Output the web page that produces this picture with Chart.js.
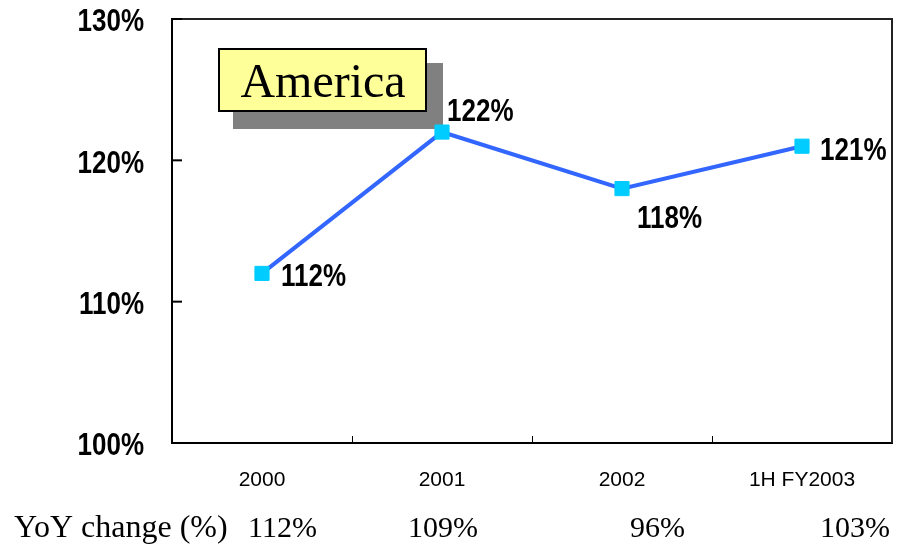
<!DOCTYPE html>
<html>
<head>
<meta charset="utf-8">
<script src="https://cdn.jsdelivr.net/npm/chart.js@4/dist/chart.umd.min.js"></script>
<style>
  html, body { margin: 0; padding: 0; background: #ffffff; }
  #wrap { width: 904px; height: 545px; position: relative; }
</style>
</head>
<body>
<div id="wrap"><canvas id="c" width="904" height="545"></canvas></div>
<script>
// ---- data ----
const categories = ['2000', '2001', '2002', '1H FY2003'];
const americaValues = [112, 122, 118, 121];
const yTickValues = [100, 110, 120, 130];
const yoyLabel = 'YoY change (%)';
const yoyValues = ['112%', '109%', '96%', '103%'];
const boxTitle = 'America';

const SANS = "'Liberation Sans', Arial, Helvetica, sans-serif";
const SERIF = "'Liberation Serif', 'Times New Roman', serif";
const STRETCH = 1.18;   // vertical stretch of the bold labels
const BOLD_SIZE = 26;

function stretchedText(ctx, text, x, yCenter, align) {
  ctx.save();
  ctx.translate(x, yCenter);
  ctx.scale(1, STRETCH);
  ctx.font = 'bold ' + BOLD_SIZE + 'px ' + SANS;
  ctx.textAlign = align;
  ctx.textBaseline = 'alphabetic';
  ctx.fillStyle = '#000';
  ctx.fillText(text, 0, 0.358 * BOLD_SIZE);
  ctx.restore();
}

const decorPlugin = {
  id: 'decor',
  beforeDatasetsDraw(chart, args, opts) {
    const ctx = chart.ctx;
    const a = chart.chartArea;
    ctx.save();
    // frame top & right
    ctx.strokeStyle = '#222';
    ctx.lineWidth = 2;
    ctx.beginPath();
    ctx.moveTo(a.left, a.top);
    ctx.lineTo(a.right, a.top);
    ctx.lineTo(a.right, a.bottom);
    ctx.stroke();
    // inward y ticks + labels
    const ys = chart.scales.y;
    ctx.strokeStyle = '#000';
    ctx.lineWidth = 2;
    ys.ticks.forEach((t) => {
      const py = ys.getPixelForValue(t.value);
      ctx.beginPath();
      ctx.moveTo(a.left, py);
      ctx.lineTo(a.left + 10, py);
      ctx.stroke();
      stretchedText(ctx, t.value + '%', a.left - 28, py + 1.3, 'right');
    });
    // inward x ticks between categories
    const xs = chart.scales.x;
    ctx.lineWidth = 1;
    for (let i = 0; i < categories.length - 1; i++) {
      const px = (xs.getPixelForTick(i) + xs.getPixelForTick(i + 1)) / 2;
      ctx.beginPath();
      ctx.moveTo(Math.round(px) + 0.5, a.bottom);
      ctx.lineTo(Math.round(px) + 0.5, a.bottom - 7);
      ctx.stroke();
    }
    // title box with shadow
    const bx = 218, by = 48, bw = 209, bh = 64;
    ctx.fillStyle = '#808080';
    ctx.fillRect(bx + 15, by + 15, bw + 1, bh + 2);
    ctx.fillStyle = '#FFFF99';
    ctx.fillRect(bx, by, bw, bh);
    ctx.strokeStyle = '#000';
    ctx.lineWidth = 2;
    ctx.strokeRect(bx + 1, by + 1, bw - 2, bh - 2);
    ctx.fillStyle = '#000';
    ctx.font = '48px ' + SERIF;
    ctx.textAlign = 'center';
    ctx.textBaseline = 'alphabetic';
    ctx.fillText(boxTitle, bx + bw / 2 + 0.5, by + 49);
    ctx.restore();
  },
  afterDatasetsDraw(chart, args, opts) {
    const meta = chart.getDatasetMeta(0);
    meta.data.forEach((pt, i) => {
      const off = opts.labelOffsets[i];
      stretchedText(chart.ctx, americaValues[i] + '%', pt.x + off[0], pt.y + off[1], 'left');
    });
  },
  afterDraw(chart, args, opts) {
    const ctx = chart.ctx;
    ctx.save();
    ctx.fillStyle = '#000';
    ctx.textAlign = 'left';
    ctx.textBaseline = 'alphabetic';
    ctx.font = '32px ' + SERIF;
    ctx.fillText(yoyLabel, 14, opts.yoyBaseline);
    ctx.font = '30px ' + SERIF;
    yoyValues.forEach((v, i) => {
      ctx.fillText(v, opts.yoyX[i], opts.yoyBaseline);
    });
    ctx.restore();
  }
};

new Chart(document.getElementById('c'), {
  type: 'line',
  data: {
    labels: categories,
    datasets: [{
      data: americaValues,
      borderColor: '#3366FF',
      borderWidth: 4,
      pointStyle: 'rect',
      pointRadius: 10,
      pointBackgroundColor: '#00CCFF',
      pointBorderColor: '#00CCFF',
      pointBorderWidth: 1,
      tension: 0
    }]
  },
  options: {
    responsive: false,
    animation: false,
    devicePixelRatio: 1,
    layout: { padding: { left: 0, right: 12, top: 19, bottom: 0 } },
    plugins: {
      legend: { display: false },
      tooltip: { enabled: false },
      decor: {
        labelOffsets: [[19, 2], [5, -22], [15, 28.5], [18, 3]],
        yoyX: [248, 408, 630, 820],
        yoyBaseline: 537
      }
    },
    scales: {
      x: {
        type: 'category',
        offset: true,
        grid: { display: false, drawTicks: false },
        border: { display: true, color: '#000', width: 2 },
        ticks: {
          color: '#000',
          font: { family: SANS, size: 21 },
          padding: 25,
          maxRotation: 0,
          autoSkip: false
        },
        afterFit(scale) { scale.height = 102; }
      },
      y: {
        min: 100,
        max: 130,
        afterBuildTicks(scale) { scale.ticks = yTickValues.map(v => ({ value: v })); },
        grid: { display: false, drawTicks: false },
        border: { display: true, color: '#000', width: 2 },
        ticks: { display: false },
        afterFit(scale) { scale.width = 172; }
      }
    }
  },
  plugins: [decorPlugin]
});
</script>
</body>
</html>
